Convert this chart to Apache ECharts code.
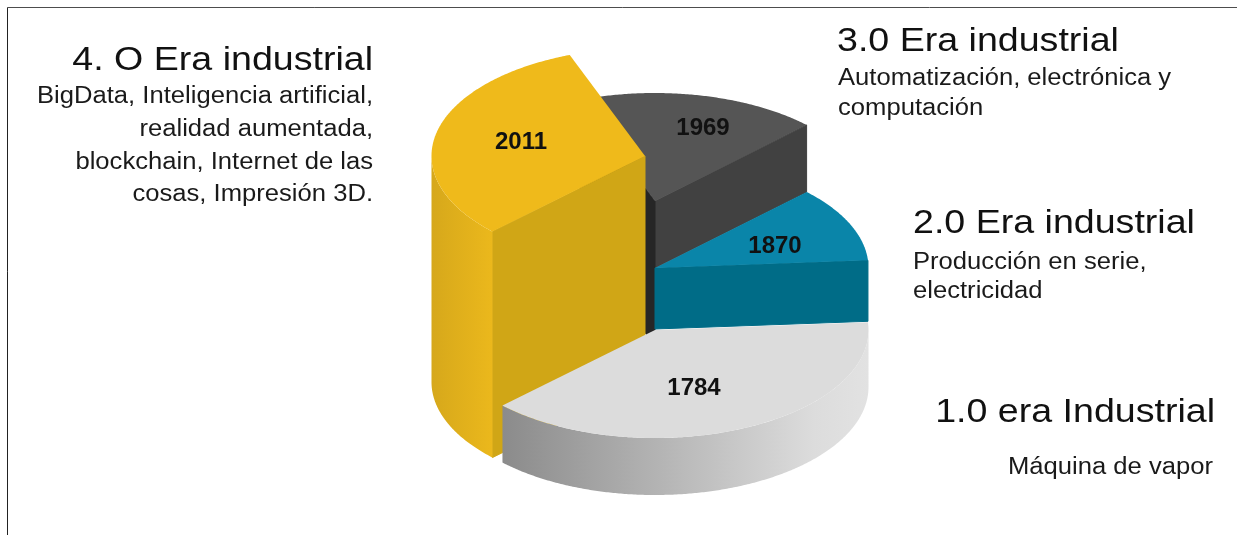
<!DOCTYPE html>
<html>
<head>
<meta charset="utf-8">
<style>
  html, body { margin: 0; padding: 0; background: #fff; }
  #chart { width: 1237px; height: 535px; }
</style>
<script src="https://cdn.jsdelivr.net/npm/echarts@6/dist/echarts.min.js"></script>
</head>
<body>
<div id="chart"></div>
<script>
// Industrial eras, oldest first. Shares are percent of the full circle.
const eraYears = ['1784', '1870', '1969', '2011'];
const eraShares = [38.8, 11.3, 18.3, 31.6];
const eraTitles = ['1.0 era Industrial', '2.0 Era industrial', '3.0 Era industrial', '4. O Era industrial'];
const eraNotes = [
  ['Máquina de vapor'],
  ['Producción en serie,', 'electricidad'],
  ['Automatización, electrónica y', 'computación'],
  ['BigData, Inteligencia artificial,', 'realidad aumentada,', 'blockchain, Internet de las', 'cosas, Impresión 3D.']
];

// Projection of the circular base and where the first wedge starts (degrees, counter-clockwise).
const RX = 213.5;
const RY = 108;
const START_ANGLE = -135.6;
// Back-to-front painting order of the wedges.
const PAINT_ORDER = [2, 1, 3, 0];

const gray = { top: '#dcdcdc', face: '#c0c0c0', side: [[0, '#8b8b8b'], [0.45, '#b6b6b6'], [0.85, '#dcdcdc'], [1, '#e2e2e2']] };
const teal = { top: '#0a85a9', face: '#006c87', side: [[0, '#006c87'], [1, '#006c87']] };
const slate = { top: '#555555', face: '#414141', core: '#262626', side: [[0, '#414141'], [1, '#414141']] };
const gold = { top: '#efba1b', face: '#d0a616', side: [[0, '#d6a81b'], [1, '#ebb81c']] };

const wedgeLayout = [
  { cx: 655, cy: 330, drop: 57, label: [39, 58], paint: gray },
  { cx: 655, cy: 268, drop: 61, label: [120, -22], paint: teal },
  { cx: 655, cy: 201, drop: 67, coreDrop: 145, label: [48, -73], paint: slate },
  { cx: 645, cy: 156, drop: 226, label: [-124, -14], paint: gold }
];

// Text block placement, in the same order as the eras.
const TITLE_FONT = '34px "Liberation Sans", Arial, sans-serif';
const NOTE_FONT = '23.5px "Liberation Sans", Arial, sans-serif';
const TITLE_STRETCH = 1.105;
const NOTE_STRETCH = 1.09;
const textLayout = [
  { titleX: 1215, titleY: 413, titleAlign: 'right', noteX: 1213, noteYs: [468], noteAlign: 'right' },
  { titleX: 913, titleY: 224, titleAlign: 'left', noteX: 913, noteYs: [263, 292], noteAlign: 'left' },
  { titleX: 837, titleY: 42, titleAlign: 'left', noteX: 838, noteYs: [79, 109], noteAlign: 'left' },
  { titleX: 373, titleY: 61, titleAlign: 'right', noteX: 373, noteYs: [97, 130, 163, 195], noteAlign: 'right' }
];

const totalShare = eraShares.reduce((sum, v) => sum + v, 0);
let running = START_ANGLE;
const wedgeAngles = eraShares.map((share) => {
  const from = running;
  running += share / totalShare * 360;
  return [from, running];
});

const rim = (cx, cy, deg) => {
  const a = deg * Math.PI / 180;
  return [cx + RX * Math.cos(a), cy - RY * Math.sin(a)];
};

const arcPoints = (cx, cy, from, to) => {
  const pts = [];
  const steps = Math.max(2, Math.ceil(Math.abs(to - from) * 2));
  for (let i = 0; i <= steps; i++) {
    pts.push(rim(cx, cy, from + (to - from) * i / steps));
  }
  return pts;
};

const shifted = (pts, dy) => pts.map((p) => [p[0], p[1] + dy]);

// The hairline stroke closes the seam where a face meets its wedge's top.
const cutFace = (cx, cy, deg, drop, fill) => {
  const edge = rim(cx, cy, deg);
  return {
    type: 'polygon',
    silent: true,
    shape: { points: [[cx, cy], edge, [edge[0], edge[1] + drop], [cx, cy + drop]] },
    style: { fill: fill, stroke: fill, lineWidth: 1 }
  };
};

// Outer wall: only the part of the rim on the near half of the circle faces the viewer.
const outerWall = (w, from, to) => {
  const parts = [];
  [[180, 360], [540, 720], [-180, 0]].forEach((near) => {
    const lo = Math.max(from, near[0]);
    const hi = Math.min(to, near[1]);
    if (hi <= lo) return;
    const upper = arcPoints(w.cx, w.cy, lo, hi);
    const lower = shifted(upper, w.drop).reverse();
    parts.push({
      type: 'polygon',
      silent: true,
      shape: { points: upper.concat(lower) },
      style: {
        fill: {
          type: 'linear', x: 0, y: 0, x2: 1, y2: 0,
          colorStops: w.paint.side.map((s) => ({ offset: s[0], color: s[1] }))
        }
      }
    });
  });
  return parts;
};

const renderWedge = (params, api) => {
  const index = api.value(0);
  const w = wedgeLayout[index];
  const from = wedgeAngles[index][0];
  const to = wedgeAngles[index][1];
  const children = [];

  // A cut face shows only when it turns toward the viewer.
  if (Math.cos(from * Math.PI / 180) > 0) {
    children.push(cutFace(w.cx, w.cy, from, w.drop, w.paint.face));
  }
  if (Math.cos(to * Math.PI / 180) < 0) {
    children.push(cutFace(w.cx, w.cy, to, w.coreDrop || w.drop, w.paint.core || w.paint.face));
  }
  outerWall(w, from, to).forEach((part) => children.push(part));

  children.push({
    type: 'polygon',
    silent: true,
    shape: { points: [[w.cx, w.cy]].concat(arcPoints(w.cx, w.cy, from, to)) },
    style: { fill: w.paint.top }
  });
  children.push({
    type: 'text',
    silent: true,
    style: {
      text: eraYears[index],
      x: w.cx + w.label[0],
      y: w.cy + w.label[1],
      font: 'bold 24px "Liberation Sans", Arial, sans-serif',
      fill: '#111111',
      textAlign: 'center',
      textVerticalAlign: 'middle'
    }
  });
  return { type: 'group', children: children };
};

const textElement = (text, x, y, align, font, stretch, fill) => ({
  type: 'text',
  silent: true,
  x: x,
  y: y,
  scaleX: stretch,
  style: { text: text, x: 0, y: 0, font: font, fill: fill, textAlign: align, textVerticalAlign: 'middle' }
});

const eraTextElements = [];
eraTitles.forEach((title, i) => {
  const t = textLayout[i];
  eraTextElements.push(textElement(title, t.titleX, t.titleY, t.titleAlign, TITLE_FONT, TITLE_STRETCH, '#111111'));
  eraNotes[i].forEach((line, j) => {
    eraTextElements.push(textElement(line, t.noteX, t.noteYs[j], t.noteAlign, NOTE_FONT, NOTE_STRETCH, '#1a1a1a'));
  });
});

// Thin frame along the top and left edges of the slide.
const frameElements = [
  { type: 'line', silent: true, shape: { x1: 7.5, y1: 7.5, x2: 1237, y2: 7.5 }, style: { stroke: '#4d4d4d', lineWidth: 1 } },
  { type: 'line', silent: true, shape: { x1: 7.5, y1: 7.5, x2: 7.5, y2: 535 }, style: { stroke: '#222222', lineWidth: 1 } }
];

const chart = echarts.init(document.getElementById('chart'), null, { renderer: 'canvas' });
chart.setOption({
  animation: false,
  backgroundColor: '#ffffff',
  graphic: { elements: frameElements.concat(eraTextElements) },
  series: [{
    type: 'custom',
    coordinateSystem: 'none',
    silent: true,
    renderItem: renderWedge,
    data: PAINT_ORDER.map((i) => [i, eraShares[i]])
  }]
});
</script>
</body>
</html>
